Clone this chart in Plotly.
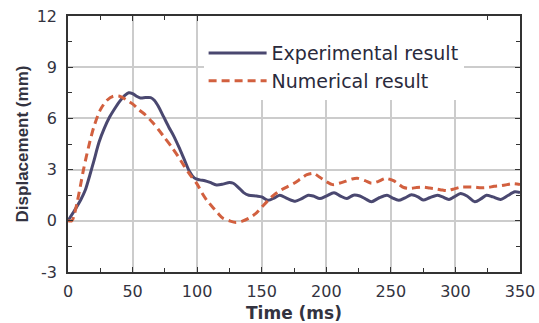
import plotly.graph_objects as go

# Experimental result (time in ms, displacement in mm)
exp_t = [0, 5, 10, 13.4, 17, 20, 24, 28, 32, 36, 40, 44, 47, 50, 53, 56, 60, 64, 67, 70,
         74, 78, 82, 86, 90, 94, 98, 102, 106, 110, 115, 120, 125, 128, 132, 136, 140, 146,
         150, 155, 160, 164, 170, 176, 181, 186, 190, 195, 200, 206, 211, 216, 221, 226,
         230, 235, 241, 247, 251, 256, 261, 266, 271, 275, 280, 286, 290, 295, 299, 304,
         309, 315, 320, 324, 329, 335, 340, 346, 350]
exp_d = [0, 0.6, 1.25, 1.8, 2.7, 3.5, 4.6, 5.4, 6.05, 6.55, 7.0, 7.35, 7.5, 7.45, 7.3, 7.2,
         7.22, 7.22, 7.05, 6.7, 6.1, 5.5, 4.95, 4.3, 3.6, 2.9, 2.5, 2.4, 2.35, 2.25, 2.1,
         2.15, 2.25, 2.2, 1.95, 1.65, 1.5, 1.45, 1.4, 1.2, 1.35, 1.5, 1.3, 1.15, 1.3, 1.5,
         1.45, 1.3, 1.45, 1.65, 1.45, 1.3, 1.5, 1.45, 1.3, 1.12, 1.35, 1.5, 1.35, 1.2, 1.35,
         1.52, 1.4, 1.22, 1.35, 1.5, 1.4, 1.25, 1.4, 1.6, 1.45, 1.12, 1.3, 1.5, 1.4, 1.25,
         1.45, 1.7, 1.65]

# Numerical result
num_t = [0, 3, 5, 7, 10, 12, 16, 20, 25, 30, 35, 40, 45, 50, 55, 60, 65, 70, 75, 80, 85,
         90, 95, 100, 104, 108, 112, 116, 120, 125, 130, 135, 140, 145, 150, 155, 160, 165,
         170, 175, 180, 185, 190, 195, 200, 205, 210, 215, 220, 224, 230, 235, 240, 246,
         252, 256, 260, 265, 270, 275, 280, 285, 290, 294, 298, 304, 310, 315, 320, 325,
         330, 335, 340, 345, 350]
num_d = [0, 0.0, 0.4, 1.05, 2.2, 3.0, 4.35, 5.5, 6.5, 7.05, 7.3, 7.3, 7.1, 6.85, 6.5, 6.2,
         5.8, 5.35, 4.85, 4.35, 3.8, 3.2, 2.65, 2.15, 1.6, 1.15, 0.8, 0.45, 0.15, 0.0, -0.1,
         -0.02, 0.15, 0.4, 0.8, 1.2, 1.55, 1.8, 2.0, 2.2, 2.45, 2.7, 2.78, 2.55, 2.3, 2.12,
         2.2, 2.32, 2.45, 2.49, 2.35, 2.2, 2.3, 2.48, 2.35, 2.15, 1.95, 1.9, 1.95, 1.97,
         1.92, 1.87, 1.8, 1.77, 1.85, 1.97, 1.98, 1.97, 1.93, 1.95, 2.02, 2.06, 2.12, 2.18,
         2.12]

x_ticks = [0, 50, 100, 150, 200, 250, 300, 350]
y_ticks = [-3, 0, 3, 6, 9, 12]
y_tick_labels = ["-3", "0", "3", "6", "9", "12"]

WIDE = "'DejaVu Sans', Verdana, sans-serif"
NARROW = "Arial, 'Liberation Sans', Helvetica, sans-serif"

fig = go.Figure()
fig.add_trace(go.Scatter(x=exp_t, y=exp_d, mode="lines", name="Experimental result",
                         line=dict(color="#4a4870", width=3, shape="spline", smoothing=0.8)))
fig.add_trace(go.Scatter(x=num_t, y=num_d, mode="lines", name="Numerical result",
                         line=dict(color="#d2603f", width=3, dash="8px,5px", shape="spline",
                                   smoothing=0.8)))

axis_common = dict(
    showline=True, linecolor="#333333", linewidth=1.5, mirror="ticks",
    ticks="inside", ticklen=5, tickwidth=1.2, tickcolor="#333333",
    showgrid=True, gridcolor="#cccccc", gridwidth=1.5, zeroline=False,
    automargin=False,
    tickfont=dict(family=WIDE, size=16, color="#333340"),
    minor=dict(ticks="inside", ticklen=4, tickcolor="#333333", showgrid=False),
)

fig.update_xaxes(range=[0, 350], tickvals=x_ticks, minor_dtick=25, ticklabelstandoff=4,
                 title=dict(text="<b>Time (ms)</b>", font=dict(family=WIDE, size=17, color="#333340"),
                            standoff=10),
                 **axis_common)
fig.update_yaxes(range=[-3, 12], tickvals=y_ticks, ticktext=y_tick_labels, minor_dtick=1.5,
                 ticklabelstandoff=6,
                 title=dict(text="<b>Displacement (mm)</b>", font=dict(family=NARROW, size=17, color="#333340"),
                            standoff=4),
                 **axis_common)

fig.update_layout(
    width=539, height=323,
    margin=dict(l=68, r=19, t=16, b=51),
    plot_bgcolor="white", paper_bgcolor="white",
    legend=dict(x=0.30, y=1.0, xanchor="left", yanchor="top", bgcolor="white",
                borderwidth=0, font=dict(family=WIDE, size=19, color="#2a2a3c"),
                title=dict(text=" ", font=dict(size=14)),
                tracegroupgap=0, itemwidth=58, entrywidth=260),
)

fig.write_html("out.html", config={"displayModeBar": False},
               post_script="document.body.style.margin='0';document.body.style.overflow='hidden';")
